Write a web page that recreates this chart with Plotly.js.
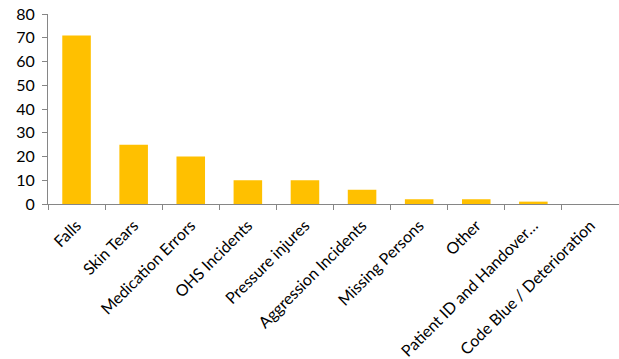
<!DOCTYPE html>
<html><head><meta charset="utf-8">
<script src="https://cdn.plot.ly/plotly-3.0.1.min.js"></script>
<style>html,body{margin:0;padding:0;background:#fff}#chart{width:619px;height:359px}</style>
</head><body><div id="chart"></div>
<script>
const categories = ["Falls","Skin Tears","Medication Errors","OHS Incidents","Pressure injures","Aggression Incidents","Missing Persons","Other","Patient ID and Handover…","Code Blue / Deterioration"];
const counts = [71,25,20,10,10,6,2,2,1,0];
const yTicks = [0,10,20,30,40,50,60,70,80];

Plotly.newPlot('chart',[{
  type:'bar', x:categories, y:counts,
  marker:{color:'#FFC000'}, hoverinfo:'none'
}],{
  width:619,height:359,
  margin:{l:48,r:0,t:14,b:155,autoexpand:false},
  paper_bgcolor:'#fff',plot_bgcolor:'#fff',
  bargap:0.5,
  showlegend:false,
  font:{family:'Lato, sans-serif',size:16,color:'#000'},
  xaxis:{type:'category',tickangle:-45,tickson:'boundaries',ticks:'outside',ticklen:5,tickcolor:'#868686',
    ticklabelstandoff:5,
    showline:true,linecolor:'#868686',linewidth:1,showgrid:false,zeroline:false,automargin:false,
    tickfont:{size:16,family:'Lato, sans-serif',color:'#000'}},
  yaxis:{range:[0,80],tickvals:yTicks,ticks:'outside',ticklen:5,tickcolor:'#868686',
    ticklabelstandoff:4,
    showline:true,linecolor:'#868686',linewidth:1,showgrid:false,zeroline:false,automargin:false,
    tickfont:{size:16,family:'Lato, sans-serif',color:'#000'}}
},{displayModeBar:false,staticPlot:true});
</script></body></html>
